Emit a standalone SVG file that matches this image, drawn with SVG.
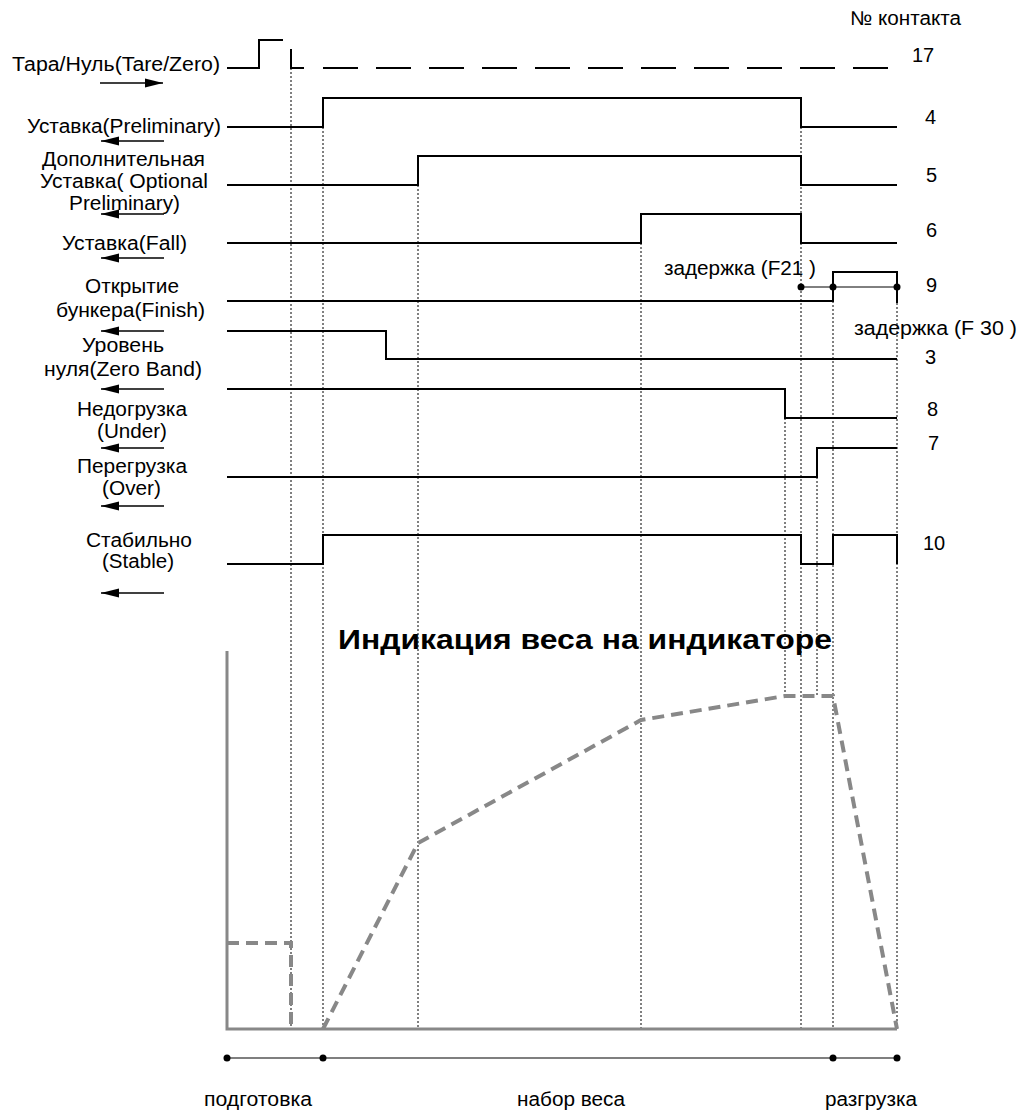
<svg xmlns="http://www.w3.org/2000/svg" width="1026" height="1113" viewBox="0 0 1026 1113">
<style>
text{font-family:"Liberation Sans",Arial,sans-serif;font-size:20px;fill:#000}
.sig{fill:none;stroke:#000;stroke-width:2}
.dot{fill:none;stroke:#000;stroke-width:1;stroke-dasharray:2 2}
.arr{stroke:#000;stroke-width:1.5}
.axis{fill:none;stroke:#888;stroke-width:3}
.wt{fill:none;stroke:#888;stroke-width:4;stroke-dasharray:12 7}
.title{font-weight:bold;font-size:28px}
</style>
<defs>
<marker id="ah" markerUnits="userSpaceOnUse" markerWidth="18" markerHeight="10" refX="18" refY="5" orient="auto">
<path d="M0,0.5 L18,5 L0,9.5 z" fill="#000"/>
</marker>
</defs>
<rect width="1026" height="1113" fill="#fff"/>

<g id="connectors">
<line class="dot" x1="291" y1="68" x2="291" y2="1029"/>
<line class="dot" x1="323" y1="127" x2="323" y2="1029"/>
<line class="dot" x1="418" y1="185" x2="418" y2="1029"/>
<line class="dot" x1="641" y1="243" x2="641" y2="1029"/>
<line class="dot" x1="785" y1="418" x2="785" y2="695"/>
<line class="dot" x1="801" y1="127" x2="801" y2="1029"/>
<line class="dot" x1="817" y1="477" x2="817" y2="695"/>
<line class="dot" x1="833" y1="301" x2="833" y2="1029"/>
<line class="dot" x1="897" y1="303" x2="897" y2="1029"/>
</g>

<g id="sig-tare">
<text x="12" y="71" textLength="208" lengthAdjust="spacingAndGlyphs">Тара/Нуль(Tare/Zero)</text>
<line class="arr" x1="100" y1="83" x2="163" y2="83" marker-end="url(#ah)"/>
<path class="sig" d="M227,68 H259 V40 H283 M291,49 V68 H304"/>
<line class="sig" x1="323" y1="68" x2="889" y2="68" stroke-dasharray="35 18"/>
<text x="912" y="62">17</text>
</g>

<g id="sig-preliminary">
<text x="27" y="133" textLength="194" lengthAdjust="spacingAndGlyphs">Уставка(Preliminary)</text>
<line class="arr" x1="164" y1="141" x2="101" y2="141" marker-end="url(#ah)"/>
<path class="sig" d="M227,127 H323 V98 H801 V127 H897"/>
<text x="925" y="124">4</text>
</g>

<g id="sig-optional">
<text x="42" y="166" textLength="163" lengthAdjust="spacingAndGlyphs">Дополнительная</text>
<text x="40" y="188" textLength="168" lengthAdjust="spacingAndGlyphs">Уставка( Optional</text>
<text x="69" y="210" textLength="111" lengthAdjust="spacingAndGlyphs">Preliminary)</text>
<line class="arr" x1="164" y1="214" x2="101" y2="214" marker-end="url(#ah)"/>
<path class="sig" d="M227,185 H418 V156 H801 V185 H897"/>
<text x="926" y="182">5</text>
</g>

<g id="sig-fall">
<text x="62" y="250" textLength="125" lengthAdjust="spacingAndGlyphs">Уставка(Fall)</text>
<line class="arr" x1="164" y1="258" x2="101" y2="258" marker-end="url(#ah)"/>
<path class="sig" d="M227,243 H641 V214 H801 V243 H897"/>
<text x="926" y="237">6</text>
</g>

<g id="sig-finish">
<text x="85" y="293" textLength="94" lengthAdjust="spacingAndGlyphs">Открытие</text>
<text x="56" y="317" textLength="149" lengthAdjust="spacingAndGlyphs">бункера(Finish)</text>
<line class="arr" x1="164" y1="331" x2="101" y2="331" marker-end="url(#ah)"/>
<path class="sig" d="M227,301 H833 V272 H897 V303"/>
<line x1="801" y1="287" x2="897" y2="287" stroke="#000" stroke-width="1"/>
<circle cx="801" cy="287" r="3.5"/>
<circle cx="833" cy="287" r="3.5"/>
<circle cx="897" cy="287" r="3.5"/>
<text x="664" y="275" textLength="152" lengthAdjust="spacingAndGlyphs">задержка (F21 )</text>
<text x="926" y="292">9</text>
<text x="854" y="335" textLength="163" lengthAdjust="spacingAndGlyphs">задержка (F 30  )</text>
</g>

<g id="sig-zeroband">
<text x="82" y="352" textLength="82" lengthAdjust="spacingAndGlyphs">Уровень</text>
<text x="44" y="376" textLength="158" lengthAdjust="spacingAndGlyphs">нуля(Zero Band)</text>
<line class="arr" x1="164" y1="389" x2="101" y2="389" marker-end="url(#ah)"/>
<path class="sig" d="M227,331 H386 V359 H897"/>
<text x="925" y="364">3</text>
</g>

<g id="sig-under">
<text x="77" y="416" textLength="110" lengthAdjust="spacingAndGlyphs">Недогрузка</text>
<text x="97" y="438" textLength="70" lengthAdjust="spacingAndGlyphs">(Under)</text>
<line class="arr" x1="164" y1="448" x2="101" y2="448" marker-end="url(#ah)"/>
<path class="sig" d="M227,389 H785 V418 H897"/>
<text x="927" y="416">8</text>
</g>

<g id="sig-over">
<text x="77" y="473" textLength="110" lengthAdjust="spacingAndGlyphs">Перегрузка</text>
<text x="102" y="495" textLength="59" lengthAdjust="spacingAndGlyphs">(Over)</text>
<line class="arr" x1="164" y1="506" x2="101" y2="506" marker-end="url(#ah)"/>
<path class="sig" d="M227,477 H817 V448 H897"/>
<text x="928" y="450">7</text>
</g>

<g id="sig-stable">
<text x="86" y="547" textLength="106" lengthAdjust="spacingAndGlyphs">Стабильно</text>
<text x="102" y="568" textLength="72" lengthAdjust="spacingAndGlyphs">(Stable)</text>
<line class="arr" x1="164" y1="593" x2="101" y2="593" marker-end="url(#ah)"/>
<path class="sig" d="M227,564 H323 V535 H801 V564 H833 V535 H897 V564"/>
<text x="923" y="550">10</text>
</g>

<g id="contact-header">
<text x="850" y="25" textLength="111" lengthAdjust="spacingAndGlyphs">№ контакта</text>
</g>

<g id="weight-chart">
<text class="title" x="338" y="649" textLength="494" lengthAdjust="spacingAndGlyphs">Индикация веса на индикаторе</text>
<path class="axis" d="M227,651 V1029 H897"/>
<path class="wt" d="M227,943 H291 V1029"/>
<path class="wt" d="M323,1029 L418,843 L641,720 L785,696 L833,696 L897,1029"/>
</g>

<g id="timeline">
<line x1="227" y1="1058" x2="897" y2="1058" stroke="#000" stroke-width="1.2"/>
<circle cx="227" cy="1058" r="3.5"/>
<circle cx="323" cy="1058" r="3.5"/>
<circle cx="833" cy="1058" r="3.5"/>
<circle cx="897" cy="1058" r="3.5"/>
<text x="204" y="1106" textLength="108" lengthAdjust="spacingAndGlyphs">подготовка</text>
<text x="517" y="1106" textLength="108" lengthAdjust="spacingAndGlyphs">набор веса</text>
<text x="825" y="1106" textLength="92" lengthAdjust="spacingAndGlyphs">разгрузка</text>
</g>
</svg>
